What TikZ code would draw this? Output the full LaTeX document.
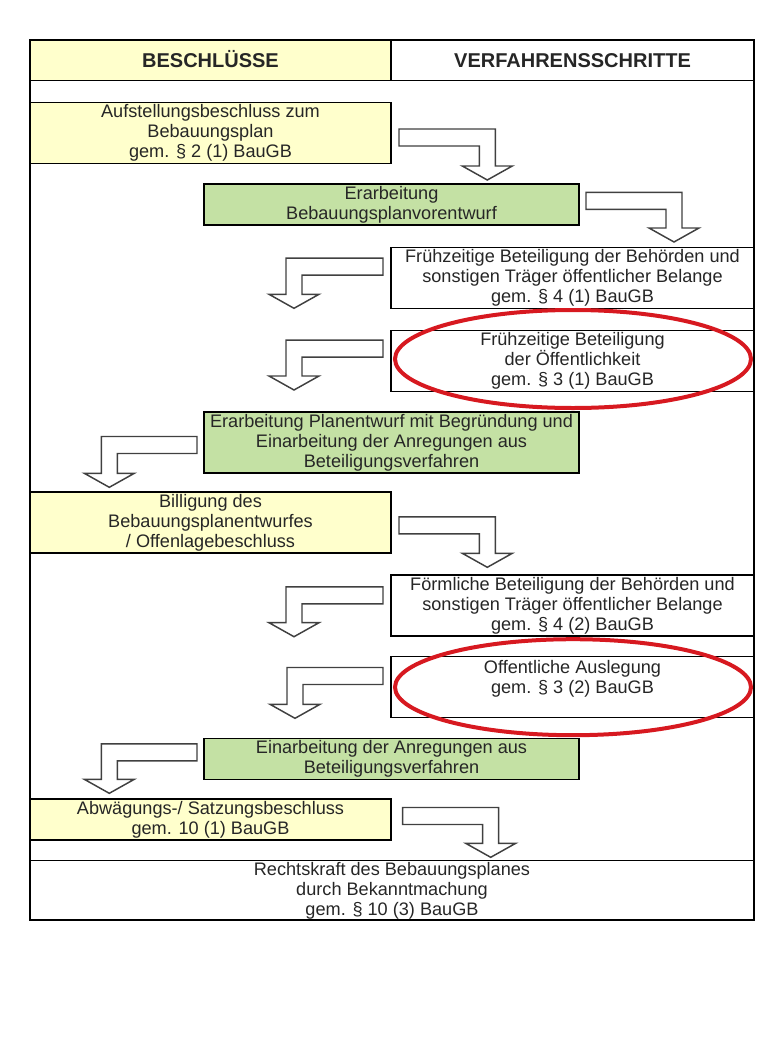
\documentclass[tikz,border=0pt]{standalone}
\usepackage{fontspec}
\setmainfont{Liberation Sans}
\usepackage{xcolor}
\usetikzlibrary{
    calc
}
\definecolor{beschlussgelb}{HTML}{FFFFCC}
\definecolor{schrittgruen}{HTML}{C4E1A4}
\definecolor{kreisrot}{HTML}{D71920}

% #1 Anfang des Balkens, #2 Spitze, #3 Richtung (1 rechts, -1 links)
\newcommand{\bentarrow}[3]{%
    \draw[blockpfeil] ($(#1)+(0,-8.5)$) -- ($(#1 -| #2)+({#3*8},-8.5)$)
        -- ($(#2)+({#3*8},-14)$) -- ($(#2)+({#3*25},-14)$) -- (#2)
        -- ($(#2)+({#3*(-25)},-14)$) -- ($(#2)+({#3*(-8)},-14)$)
        -- ($(#1 -| #2)+({#3*(-8)},8.5)$) -- ($(#1)+(0,8.5)$) -- cycle;
}

\begin{document}
\begin{tikzpicture}[x=0.75pt, y=-0.75pt,
    kasten/.style={draw, line width=1.1pt, inner sep=0pt, align=center,
        text=black!85, font=\fontsize{13.6pt}{15pt}\selectfont},
    kopf/.style={kasten, minimum height=30.5pt, text height=10.5pt, text depth=0pt,
        font=\fontsize{15pt}{16pt}\selectfont\bfseries},
    beschluss/.style={kasten, fill=beschlussgelb, minimum width=270.75pt},
    schritt/.style={kasten, fill=white, minimum width=272.25pt},
    arbeit/.style={kasten, fill=schrittgruen, minimum width=281.25pt},
    dreizeilig/.style={minimum height=45.75pt},
    zweizeilig/.style={minimum height=30.75pt},
    blockpfeil/.style={draw=black!75, line width=1.1pt, fill=white, line join=miter},
    markierung/.style={draw=kreisrot, line width=3pt}]
    \useasboundingbox (0,0) rectangle (780,1042);
    \draw[line width=1.1pt] (30,40) rectangle (754,920);
    \node[kopf, fill=beschlussgelb, minimum width=270.75pt] (kopfl) at (210.5,60.4) {BESCHLÜSSE};
    \node[kopf, fill=white, minimum width=272.25pt] (kopfr) at (572.5,60.4) {VERFAHRENSSCHRITTE};

    \node[beschluss, dreizeilig] (aufstellung) at (210.5,133) {Aufstellungsbeschluss zum\\Bebauungsplan\\gem. § 2 (1) BauGB};
    \node[arbeit, zweizeilig] (vorentwurf) at (391.5,204.5) {Erarbeitung\\Bebauungsplanvorentwurf};
    \node[schritt, dreizeilig] (fruehtoeb) at (572.5,277.8) {Frühzeitige Beteiligung der Behörden und\\sonstigen Träger öffentlicher Belange\\gem. § 4 (1) BauGB};
    \node[schritt, dreizeilig] (fruehoeff) at (572.5,360.8) {Frühzeitige Beteiligung\\der Öffentlichkeit\\gem. § 3 (1) BauGB};
    \node[arbeit, dreizeilig] (planentwurf) at (391.5,442.7) {Erarbeitung Planentwurf mit Begründung und\\Einarbeitung der Anregungen aus\\Beteiligungsverfahren};
    \node[beschluss, dreizeilig] (billigung) at (210.5,522.5) {Billigung des\\Bebauungsplanentwurfes\\/ Offenlagebeschluss};
    \node[schritt, dreizeilig] (foermtoeb) at (572.5,605.5) {Förmliche Beteiligung der Behörden und\\sonstigen Träger öffentlicher Belange\\gem. § 4 (2) BauGB};
    \node[schritt, dreizeilig] (auslegung) at (572.5,687.2) {Offentliche Auslegung\\gem. § 3 (2) BauGB\\\mbox{}};
    \node[arbeit, zweizeilig] (einarbeitung) at (391.5,758.8) {Einarbeitung der Anregungen aus\\Beteiligungsverfahren};
    \node[beschluss, zweizeilig] (abwaegung) at (210.5,819.7) {Abwägungs-/ Satzungsbeschluss\\gem. 10 (1) BauGB};
    \node[kasten, minimum width=543pt, minimum height=44.5pt] (rechtskraft) at (392,890.3) {Rechtskraft des Bebauungsplanes\\durch Bekanntmachung\\gem. § 10 (3) BauGB};

    \coordinate (p1a) at (399,137.5);   \coordinate (p1b) at (487.3,180);
    \coordinate (p2a) at (586,200.8);   \coordinate (p2b) at (674,242);
    \coordinate (p3a) at (383,266.7);   \coordinate (p3b) at (294,308.3);
    \coordinate (p4a) at (383,348.7);   \coordinate (p4b) at (294,390);
    \coordinate (p5a) at (197,445);     \coordinate (p5b) at (109.3,487.3);
    \coordinate (p6a) at (399,525.3);   \coordinate (p6b) at (487.3,567.3);
    \coordinate (p7a) at (383,595.3);   \coordinate (p7b) at (294,636.7);
    \coordinate (p8a) at (383,676);     \coordinate (p8b) at (295,718.3);
    \coordinate (p9a) at (197,752.3);   \coordinate (p9b) at (109.3,793.3);
    \coordinate (p10a) at (402.7,816);  \coordinate (p10b) at (490.7,857.3);
    \bentarrow{p1a}{p1b}{1}
    \bentarrow{p2a}{p2b}{1}
    \bentarrow{p3a}{p3b}{-1}
    \bentarrow{p4a}{p4b}{-1}
    \bentarrow{p5a}{p5b}{-1}
    \bentarrow{p6a}{p6b}{1}
    \bentarrow{p7a}{p7b}{-1}
    \bentarrow{p8a}{p8b}{-1}
    \bentarrow{p9a}{p9b}{-1}
    \bentarrow{p10a}{p10b}{1}

    \draw[markierung] ($(fruehoeff.center)+(0.5,-1.8)$) ellipse [x radius=133.5pt, y radius=36.75pt];
    \draw[markierung] ($(auslegung.center)+(0.5,0)$) ellipse [x radius=133.5pt, y radius=36pt];
\end{tikzpicture}
\end{document}
